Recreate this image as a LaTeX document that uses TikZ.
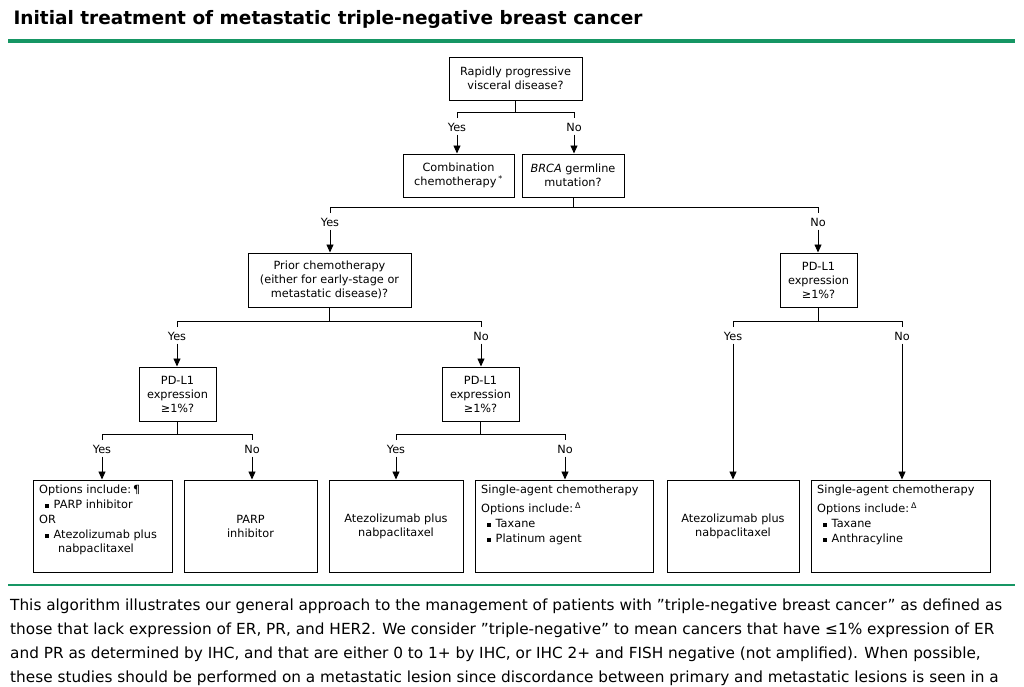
\documentclass[tikz,border=0pt]{standalone}
\usepackage{fontspec}
\setmainfont{DejaVu Sans}
\usetikzlibrary{arrows.meta}
\definecolor{grn}{RGB}{22,150,100}
\newcommand{\bul}{\rule[0.2ex]{3.5pt}{3.5pt}\hspace{5pt}}
\newcommand{\qq}{\symbol{34}}
\begin{document}
\begin{tikzpicture}[x=1pt,y=-1pt,
  box/.style={draw,line width=1pt,inner sep=0pt,font=\fontsize{11.3}{14}\selectfont,align=center},
  lab/.style={font=\fontsize{11.3}{14}\selectfont},
  ln/.style={line width=0.9pt},
  ar/.style={line width=0.9pt,-{Triangle[length=8pt,width=7pt]}}]
\useasboundingbox (0,0) rectangle (1024,686);
\node[anchor=west,font=\bfseries\fontsize{18.5}{20}\selectfont] (title) at (10,19) {Initial treatment of metastatic triple-negative breast cancer};
\draw[grn,line width=3.5pt] (8,41) -- (1015,41);
\draw[grn,line width=2pt] (8,585) -- (1015,585);
\newcommand{\bx}[6]{\node[box,minimum width=#4-#2,minimum height=#5-#3] (#1) at ({(#2+#4)/2},{(#3+#5)/2}) {#6};}
\bx{q1}{449}{57}{582}{100}{Rapidly progressive\\visceral disease?}
\bx{comb}{403}{154}{514}{197}{Combination\\chemotherapy\,\textsuperscript{*}}
\bx{brca}{522}{154}{624}{197}{\textit{BRCA} germline\\mutation?}
\bx{prior}{248}{253}{411}{307}{Prior chemotherapy\\(either for early-stage or\\metastatic disease)?}
\bx{pdr}{780}{253}{857}{307}{PD-L1\\expression\\≥1\%?}
\bx{pdl}{139}{367}{216}{421}{PD-L1\\expression\\≥1\%?}
\bx{pdm}{442}{367}{519}{421}{PD-L1\\expression\\≥1\%?}
\bx{b1}{33}{480}{172}{572}{}
\bx{b2}{184}{480}{317}{572}{PARP\\inhibitor}
\bx{b3}{329}{480}{463}{572}{Atezolizumab plus\\nabpaclitaxel}
\bx{b4}{475}{480}{653}{572}{}
\bx{b5}{667}{480}{799}{572}{Atezolizumab plus\\nabpaclitaxel}
\bx{b6}{811}{480}{990}{572}{}
\node[anchor=north west,lab,align=left,inner sep=0pt] (t1) at (39,485) {Options include:\,¶\\[1pt]
\hspace{6pt}\bul PARP inhibitor\\[1pt] OR\\[1pt]
\hspace{6pt}\bul Atezolizumab plus\\[0pt] \hspace{19pt}nabpaclitaxel};
\node[anchor=north west,lab,align=left,inner sep=0pt] (t4) at (481,485) {Single-agent chemotherapy\\[5pt]
Options include:\,\textsuperscript{Δ}\\[1pt] \hspace{6pt}\bul Taxane\\[1pt] \hspace{6pt}\bul Platinum agent};
\node[anchor=north west,lab,align=left,inner sep=0pt] (t6) at (817,485) {Single-agent chemotherapy\\[5pt]
Options include:\,\textsuperscript{Δ}\\[1pt] \hspace{6pt}\bul Taxane\\[1pt] \hspace{6pt}\bul Anthracyline};
\newcommand{\br}[9]{%
 \draw[ln] (#1.south) -- (#1.south|-0,#2);
 \draw[ln] (#3,#2+6) -- (#3,#2) -- (#4,#2) -- (#4,#2+6);
 \node[lab] (#1L) at (#3,#2+15) {#8};
 \node[lab] (#1R) at (#4,#2+15) {#9};
 \draw[ar] (#1L.south) -- (#1L.south|-#6.north);
 \draw[ar] (#1R.south) -- (#1R.south|-#7.north);}
\br{q1}{112}{457}{574}{}{comb}{brca}{Yes}{No}
\br{brca}{207}{330}{818}{}{prior}{pdr}{Yes}{No}
\br{prior}{321}{177}{481}{}{pdl}{pdm}{Yes}{No}
\br{pdr}{321}{733}{902}{}{b5}{b6}{Yes}{No}
\br{pdl}{434}{102}{252}{}{b1}{b2}{Yes}{No}
\br{pdm}{434}{396}{565}{}{b3}{b4}{Yes}{No}
\tikzset{captxt/.style={anchor=west,inner sep=0pt,font=\fontsize{15.3}{18}\selectfont}}
\node[captxt] (c1) at (10,606) {This algorithm illustrates our general approach to the management of patients with \qq triple-negative breast cancer\qq{} as defined as};
\node[captxt] (c2) at (10,630) {those that lack expression of ER, PR, and HER2. We consider \qq triple-negative\qq{} to mean cancers that have ≤1\% expression of ER};
\node[captxt] (c3) at (10,654) {and PR as determined by IHC, and that are either 0 to 1+ by IHC, or IHC 2+ and FISH negative (not amplified). When possible,};
\node[captxt] (c4) at (10,678) {these studies should be performed on a metastatic lesion since discordance between primary and metastatic lesions is seen in a};
\end{tikzpicture}
\end{document}
